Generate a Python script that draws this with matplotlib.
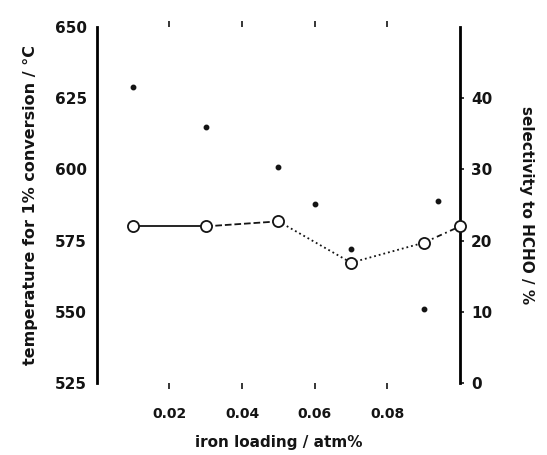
import matplotlib
matplotlib.use("Agg")
import matplotlib.pyplot as plt

# iron loading (atm%) and the two series
loading_sel = [0.01, 0.03, 0.05, 0.07, 0.09, 0.10]
selectivity = [22.0, 22.0, 22.7, 16.9, 19.7, 22.0]

loading_temp = [0.01, 0.03, 0.05, 0.06, 0.07, 0.09, 0.094]
temperature = [629, 615, 601, 588, 572, 551, 589]

INK = "#141414"
plt.rcParams.update({"font.family": "DejaVu Sans", "font.weight": "bold",
                     "axes.labelweight": "bold",
                     "text.color": INK, "axes.labelcolor": INK,
                     "xtick.color": INK, "ytick.color": INK})

fig = plt.figure(figsize=(5.47, 4.55), dpi=100)
ax = fig.add_axes([0.177, 0.158, 0.664, 0.783])
ax2 = ax.twinx()

# temperature (left axis): small filled dots
ax.plot(loading_temp, temperature, "o", ms=3.2, color=INK, zorder=3)
ax.set_xlim(0, 0.1)
ax.set_ylim(525, 650)
ax.set_yticks([525, 550, 575, 600, 625, 650])
ax.set_xticks([0.02, 0.04, 0.06, 0.08], ["0.02", "0.04", "0.06", "0.08"])
ax.tick_params(axis="y", length=0, pad=7, labelsize=11)
ax.tick_params(axis="x", which="both", bottom=True, top=True, direction="out",
               length=4, width=1.2, pad=13, labelsize=10)
for side in ("top", "bottom"):
    ax.spines[side].set_visible(False)
ax.spines["left"].set_linewidth(2.0)
ax.set_ylabel("temperature for 1% conversion / \u00b0C", fontsize=11.5, labelpad=12)
ax.set_xlabel("iron loading / atm%", fontsize=11, labelpad=10)

# selectivity (right axis): open circles joined by broken lines
styles = ["-", "--", ":", ":", (0, (3, 2, 1, 2))]
for i in range(len(loading_sel) - 1):
    ax2.plot(loading_sel[i:i + 2], selectivity[i:i + 2], ls=styles[i], lw=1.3,
             color=INK, zorder=2)
ax2.plot(loading_sel, selectivity, "o", ms=8, mfc="white", mec=INK, mew=1.3,
         ls="none", zorder=4, clip_on=False)
ax2.set_ylim(0, 50)
ax2.set_yticks([0, 10, 20, 30, 40])
ax2.tick_params(axis="y", length=3, width=1.2, pad=5, labelsize=11)
for side in ("top", "bottom", "left"):
    ax2.spines[side].set_visible(False)
ax2.spines["right"].set_linewidth(2.0)
ax2.set_ylabel("selectivity to HCHO / %", fontsize=11, rotation=-90, labelpad=30)

fig.savefig("out.png", dpi=100)
